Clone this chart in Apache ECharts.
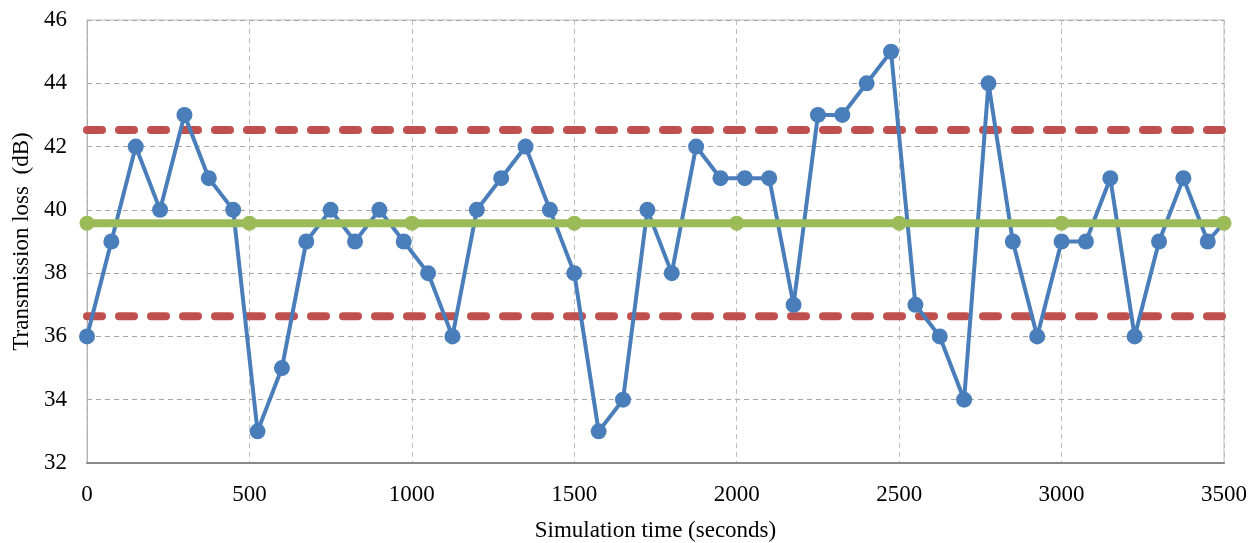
<!DOCTYPE html>
<html><head><meta charset="utf-8">
<script src="https://cdn.jsdelivr.net/npm/echarts@6/dist/echarts.min.js"></script>
<style>html,body{margin:0;padding:0;background:#fff}#c{width:1257px;height:543px}</style>
</head><body><div id="c"></div>
<script>
const times = [0,75,150,225,300,375,450,525,600,675,750,825,900,975,1050,1125,1200,1275,1350,1425,1500,1575,1650,1725,1800,1875,1950,2025,2100,2175,2250,2325,2400,2475,2550,2625,2700,2775,2850,2925,3000,3075,3150,3225,3300,3375,3450,3500];
const loss = [36,39,42,40,43,41,40,33,35,39,40,39,40,39,38,36,40,41,42,40,38,33,34,40,38,42,41,41,41,37,43,43,44,45,37,36,34,44,39,36,39,39,41,36,39,41,39,39.6];
const meanTimes = [0,500,1000,1500,2000,2500,3000,3500];
const meanValue = 39.58;
const upperLimit = 42.52;
const lowerLimit = 36.64;

const font = '"Liberation Serif", "Times New Roman", serif';
const chart = echarts.init(document.getElementById('c'));
const blueData = times.map((t,i)=> i===times.length-1 ? {value:[t,loss[i]], symbol:'none'} : [t,loss[i]]);
chart.setOption({
  animation:false,
  grid:{left:87,right:33,top:20,bottom:80,show:true,borderColor:'#bfbfbf',borderWidth:1,outerBoundsMode:'none',containLabel:false},
  xAxis:{type:'value',min:0,max:3500,interval:500,
    name:'Simulation time (seconds)',nameLocation:'middle',nameGap:56,
    nameTextStyle:{fontFamily:font,fontSize:23,color:'#000'},
    axisLine:{show:true,lineStyle:{color:'#888',width:2}},
    axisTick:{show:false},
    axisLabel:{fontFamily:font,fontSize:23,color:'#000',margin:20,formatter:v=>String(v)},
    splitLine:{show:true,lineStyle:{color:'#bdbdbd',type:[5,4],width:1}}},
  yAxis:{type:'value',min:32,max:46,interval:2,
    name:'Transmission loss  (dB)',nameLocation:'middle',nameGap:54,
    nameTextStyle:{fontFamily:font,fontSize:23,color:'#000'},
    axisLine:{show:true,lineStyle:{color:'#aaa',width:1,type:'dotted'}},
    axisTick:{show:false},
    axisLabel:{fontFamily:font,fontSize:23,color:'#000',margin:20},
    splitLine:{show:true,lineStyle:{color:'#a6a6a6',type:[5,4],width:1}}},
  series:[
    {type:'line',data:[[0,upperLimit],[3500,upperLimit]],symbol:'none',z:3,
      lineStyle:{color:'#C0504D',width:8,type:[15,17],cap:'round'},silent:true},
    {type:'line',data:[[0,lowerLimit],[3500,lowerLimit]],symbol:'none',z:3,
      lineStyle:{color:'#C0504D',width:8,type:[15,17],cap:'round'},silent:true},
    {type:'line',data:blueData,symbol:'circle',symbolSize:16,z:4,
      itemStyle:{color:'#4A7EBB'},lineStyle:{color:'#4A7EBB',width:4}},
    {type:'line',data:meanTimes.map(t=>[t,meanValue]),symbol:'circle',symbolSize:15,z:5,
      itemStyle:{color:'#9BBB59'},lineStyle:{color:'#9BBB59',width:8}}
  ]
});
</script></body></html>
